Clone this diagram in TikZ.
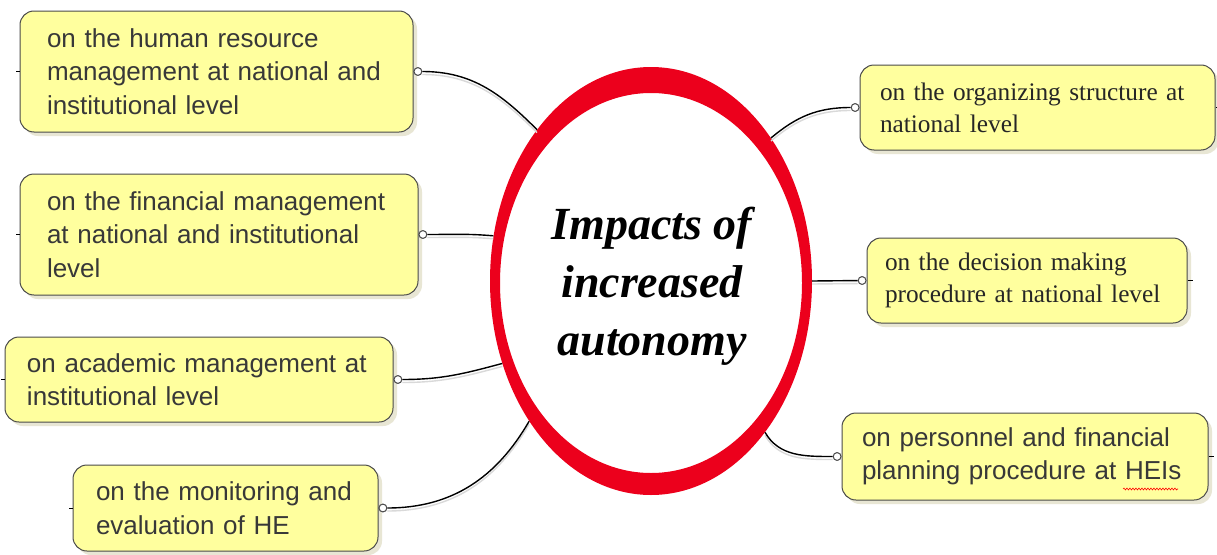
\documentclass[tikz,border=0pt]{standalone}
\usepackage{fontspec}
\setmainfont{Liberation Serif}
\newfontfamily\boxsans{Liberation Sans}
\usetikzlibrary{shapes.geometric,shadows,decorations.pathmorphing}
\definecolor{boxfill}{HTML}{FFFF9E}
\definecolor{boxline}{HTML}{4A4A4A}
\definecolor{ringred}{HTML}{EC001C}
\definecolor{txt}{HTML}{383838}
\definecolor{shade}{HTML}{E8E6D4}
\tikzset{
 topic/.style={draw=boxline, line width=1pt, fill=boxfill, rounded corners=14pt,
   align=left, inner ysep=0pt, anchor=center, text=txt,
   drop shadow={shadow xshift=4pt, shadow yshift=-4pt, fill=shade, opacity=1}},
 sanstopic/.style={topic, font=\boxsans\fontsize{26}{33.5}\selectfont},
 seriftopic/.style={topic, text=black!85, font=\fontsize{25.3}{32}\selectfont},
 port/.style={circle, draw=boxline, fill=white, line width=0.8pt, inner sep=0pt, minimum size=8pt},
 link/.style={draw=black, line width=1.4pt},
 linkshadow/.style={draw=black!15, line width=1.4pt, transform canvas={yshift=-3pt}},
 stub/.style={draw=black, line width=1pt},
}
\begin{document}
\begin{tikzpicture}[x=1pt,y=-1pt]
\useasboundingbox[fill=white] (0,0) rectangle (1217,554);

% central ring
\fill[ringred, even odd rule] (651,281) ellipse [x radius=161pt, y radius=214pt]
                              (651,283) ellipse [x radius=151pt, y radius=190pt];
\node[ellipse, minimum width=322pt, minimum height=428pt, inner sep=0pt, align=center,
      font=\fontsize{46}{58}\selectfont\bfseries\itshape] (c) at (651,281) {};
\node[align=center, font=\fontsize{46}{58}\selectfont\bfseries\itshape] (ctext) at (652,286)
      {Impacts of\\increased\\autonomy};

% left topics
\node[sanstopic, minimum height=121pt, inner xsep=27pt, text width=339pt] (b1) at (216.5,71.5)
  {on the human resource\\management at national and\\institutional level};
\node[sanstopic, minimum height=121pt, inner xsep=27pt, text width=344pt] (b2) at (219,234.5)
  {on the financial management\\at national and institutional\\level};
\node[sanstopic, minimum height=85pt, inner xsep=22pt, text width=344pt] (b3) at (199,379.5)
  {on academic management at\\institutional level};
\node[sanstopic, minimum height=86pt, inner xsep=23pt, text width=259pt] (b4) at (225.5,508)
  {on the monitoring and\\evaluation of HE};

% right topics
\node[seriftopic, minimum height=85pt, inner xsep=20pt, text width=315pt] (r1) at (1037.5,107.5)
  {on the organizing structure at\\national level};
\node[seriftopic, minimum height=85pt, inner xsep=18pt, text width=284pt] (r2) at (1027,280.5)
  {on the decision making\\procedure at national level};
\node[sanstopic, minimum height=87pt, inner xsep=20pt, text width=326pt] (r3) at (1025,456.5)
  {on personnel and financial\\planning procedure at HEIs};
\draw[red, line width=0.6pt, decorate, decoration={snake, amplitude=0.9pt, segment length=3pt}]
  (1123,489) -- (1178,489);

% ports
\node[port, anchor=west] (p1) at (b1.east) {};
\node[port, anchor=west] (p2) at (b2.east) {};
\node[port, anchor=west] (p3) at (b3.east) {};
\node[port, anchor=west] (p4) at (b4.east) {};
\node[port, anchor=east] (q1) at (r1.west) {};
\node[port, anchor=east] (q2) at (r2.west) {};
\node[port, anchor=east] (q3) at (r3.west) {};

% stubs
\coordinate (s1) at ([xshift=-4pt]b1.west);
\coordinate (s2) at ([xshift=-4pt]b2.west);
\coordinate (s3) at ([xshift=-4pt]b3.west);
\coordinate (s4) at ([xshift=-4pt]b4.west);
\coordinate (t1) at ([xshift=4pt]r1.east);
\coordinate (t2) at ([xshift=5pt]r2.east);
\coordinate (t3) at ([xshift=5pt]r3.east);
\draw[stub] (b1.west) -- (s1);
\draw[stub] (b2.west) -- (s2);
\draw[stub] (b3.west) -- (s3);
\draw[stub] (b4.west) -- (s4);
\draw[stub] (r1.east) -- (t1);
\draw[stub] (r2.east) -- (t2);
\draw[stub] (r3.east) -- (t3);

% connector shadows
\draw[linkshadow] (p1) to[out=0, in=135] (c.127.5);
\draw[linkshadow] (p2) to[out=0, in=175] (c.164.9);
\draw[linkshadow] (p3) to[out=0, in=195] (c.209);
\draw[linkshadow] (p4) to[out=0, in=240] (c.229);
\draw[linkshadow] (c.50.8) to[out=40, in=180] (q1);
\draw[linkshadow] (c.0) -- (q2);
\draw[linkshadow] (c.-53) to[out=-60, in=180] (q3);

% connectors
\draw[link] (p1) to[out=0, in=135] (c.127.5);
\draw[link] (p2) to[out=0, in=175] (c.164.9);
\draw[link] (p3) to[out=0, in=195] (c.209);
\draw[link] (p4) to[out=0, in=240] (c.229);
\draw[link] (c.50.8) to[out=40, in=180] (q1);
\draw[link] (c.0) -- (q2);
\draw[link] (c.-53) to[out=-60, in=180] (q3);

% redraw ports on top
\foreach \p in {p1,p2,p3,p4,q1,q2,q3}
  \draw[boxline, fill=white, line width=0.8pt] (\p) circle[radius=3.8pt];
\end{tikzpicture}
\end{document}
